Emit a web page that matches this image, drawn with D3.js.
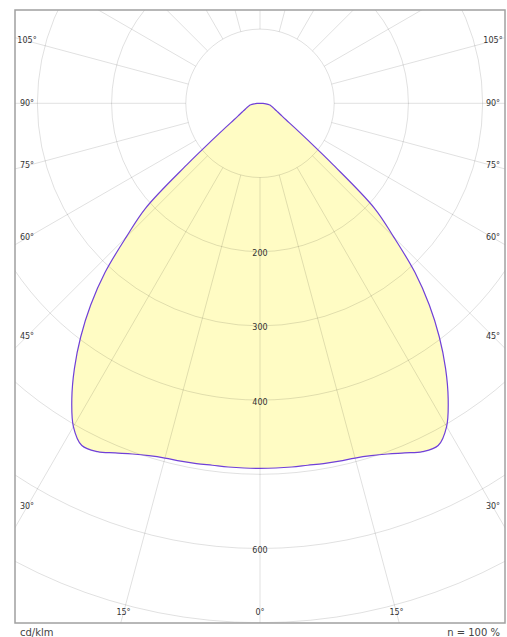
<!DOCTYPE html>
<html>
<head>
<meta charset="utf-8">
<script src="https://cdn.jsdelivr.net/npm/d3@7"></script>
<style>
  html, body { margin: 0; padding: 0; background: #fff; }
  svg { display: block; font-family: "DejaVu Sans", Verdana, sans-serif; }
</style>
</head>
<body>
<svg id="chart" width="507" height="637"></svg>
<script>
// Polar luminous intensity distribution (symmetric C0/C180 plane), cd/klm
const gammaDeg = [0, 2.5, 5, 7.5, 10, 12.5, 15, 17.5, 20, 22.5, 25, 27.5, 30, 32.5, 35, 37.5,
                  40, 42.5, 45, 47.5, 50, 52.5, 55, 57.5, 60, 62.5, 65, 67.5, 70, 72.5, 75,
                  77.5, 80, 82.5, 85, 87.5, 90];
const intensity = [492, 492, 492, 492, 493, 494, 495, 498, 503, 510, 518, 520, 503, 472, 436, 397,
                   355, 309, 255, 209, 128, 80, 56, 42, 34, 29, 25, 22, 20, 18, 16.5,
                   15, 13.5, 11, 8, 4, 0];
const ringValues = [100, 200, 300, 400, 500, 600, 700, 800, 900];
const ringLabels = [200, 300, 400, 600];
const spokeAngles = d3.range(0, 360, 15);
const angleLabels = [0, 15, 30, 45, 60, 75, 90, 105];
const unitLabel = "cd/klm";
const ratioLabel = "n = 100 %";

const svg = d3.select("#chart");
const frame = { x: 15, y: 10, w: 490, h: 613 };
const cx = 260, cy = 103.3;

const r = d3.scaleLinear().domain([0, 100]).range([0, 74.2]);
// degrees measured from nadir (straight down) -> d3 radial angle (clockwise from up)
const toRad = d3.scaleLinear().domain([0, 180]).range([Math.PI, 0]);

svg.append("defs").append("clipPath").attr("id", "frameClip")
  .append("rect").attr("x", frame.x).attr("y", frame.y).attr("width", frame.w).attr("height", frame.h);

const plot = svg.append("g").attr("clip-path", "url(#frameClip)");
const g = plot.append("g").attr("transform", `translate(${cx},${cy})`);

// distribution points: right half from 90° down to 0°, then left half back up to 90°
const right = gammaDeg.map((d, i) => ({ a: toRad(d), v: intensity[i] })).reverse();
const left = gammaDeg.map((d, i) => ({ a: 2 * Math.PI - toRad(d), v: intensity[i] })).slice(1);
const pts = right.concat(left);

const radial = d3.lineRadial().angle(d => d.a).radius(d => r(d.v))
  .curve(d3.curveCatmullRomClosed.alpha(0.5));

g.append("path").attr("d", radial(pts)).attr("fill", "#fffcc4").attr("stroke", "none");

// grid rings and spokes
const gridColor = "rgba(0,0,0,0.12)";
g.selectAll("circle.ring").data(ringValues).join("circle")
  .attr("class", "ring").attr("r", d => r(d))
  .attr("fill", "none").attr("stroke", gridColor).attr("stroke-width", 1);

g.selectAll("line.spoke").data(spokeAngles).join("line")
  .attr("class", "spoke")
  .attr("x1", d => r(100) * Math.sin(toRad(d)))
  .attr("y1", d => -r(100) * Math.cos(toRad(d)))
  .attr("x2", d => r(900) * Math.sin(toRad(d)))
  .attr("y2", d => -r(900) * Math.cos(toRad(d)))
  .attr("stroke", gridColor).attr("stroke-width", 1);

// outline
g.append("path").attr("d", radial(pts)).attr("fill", "none")
  .attr("stroke", "#7040d8").attr("stroke-width", 1.2).attr("stroke-linejoin", "round");

// intensity labels along the nadir axis
g.selectAll("text.val").data(ringLabels).join("text")
  .attr("class", "val")
  .attr("x", 0).attr("y", d => r(d) + 2)
  .attr("text-anchor", "middle").attr("dominant-baseline", "central")
  .attr("font-size", 8).attr("fill", "#333")
  .text(d => d);

// angle labels where each spoke meets the inner label box
const box = { left: 27 - cx, right: 493 - cx, bottom: 612.7 - cy };
const angLab = [];
angleLabels.forEach(a => {
  const sides = a === 0 ? [1] : [-1, 1];
  sides.forEach(s => {
    const dx = s * Math.sin(a * Math.PI / 180), dy = Math.cos(a * Math.PI / 180);
    let t = Infinity;
    if (dx < 0) t = Math.min(t, box.left / dx);
    if (dx > 0) t = Math.min(t, box.right / dx);
    if (dy > 0) t = Math.min(t, box.bottom / dy);
    angLab.push({ a, x: dx * t, y: dy * t });
  });
});
g.selectAll("text.ang").data(angLab).join("text")
  .attr("class", "ang")
  .attr("x", d => d.x).attr("y", d => d.y)
  .attr("text-anchor", "middle").attr("dominant-baseline", "central")
  .attr("font-size", 8).attr("fill", "#333")
  .text(d => d.a + "°");

// frame
svg.append("rect").attr("x", frame.x).attr("y", frame.y).attr("width", frame.w).attr("height", frame.h)
  .attr("fill", "none").attr("stroke", "#a0a0a0").attr("stroke-width", 1.5);

svg.append("text").attr("x", 20).attr("y", 636).attr("font-size", 10).attr("fill", "#444").text(unitLabel);
svg.append("text").attr("x", 500).attr("y", 636).attr("text-anchor", "end")
  .attr("font-size", 10).attr("fill", "#444").text(ratioLabel);
</script>
</body>
</html>
